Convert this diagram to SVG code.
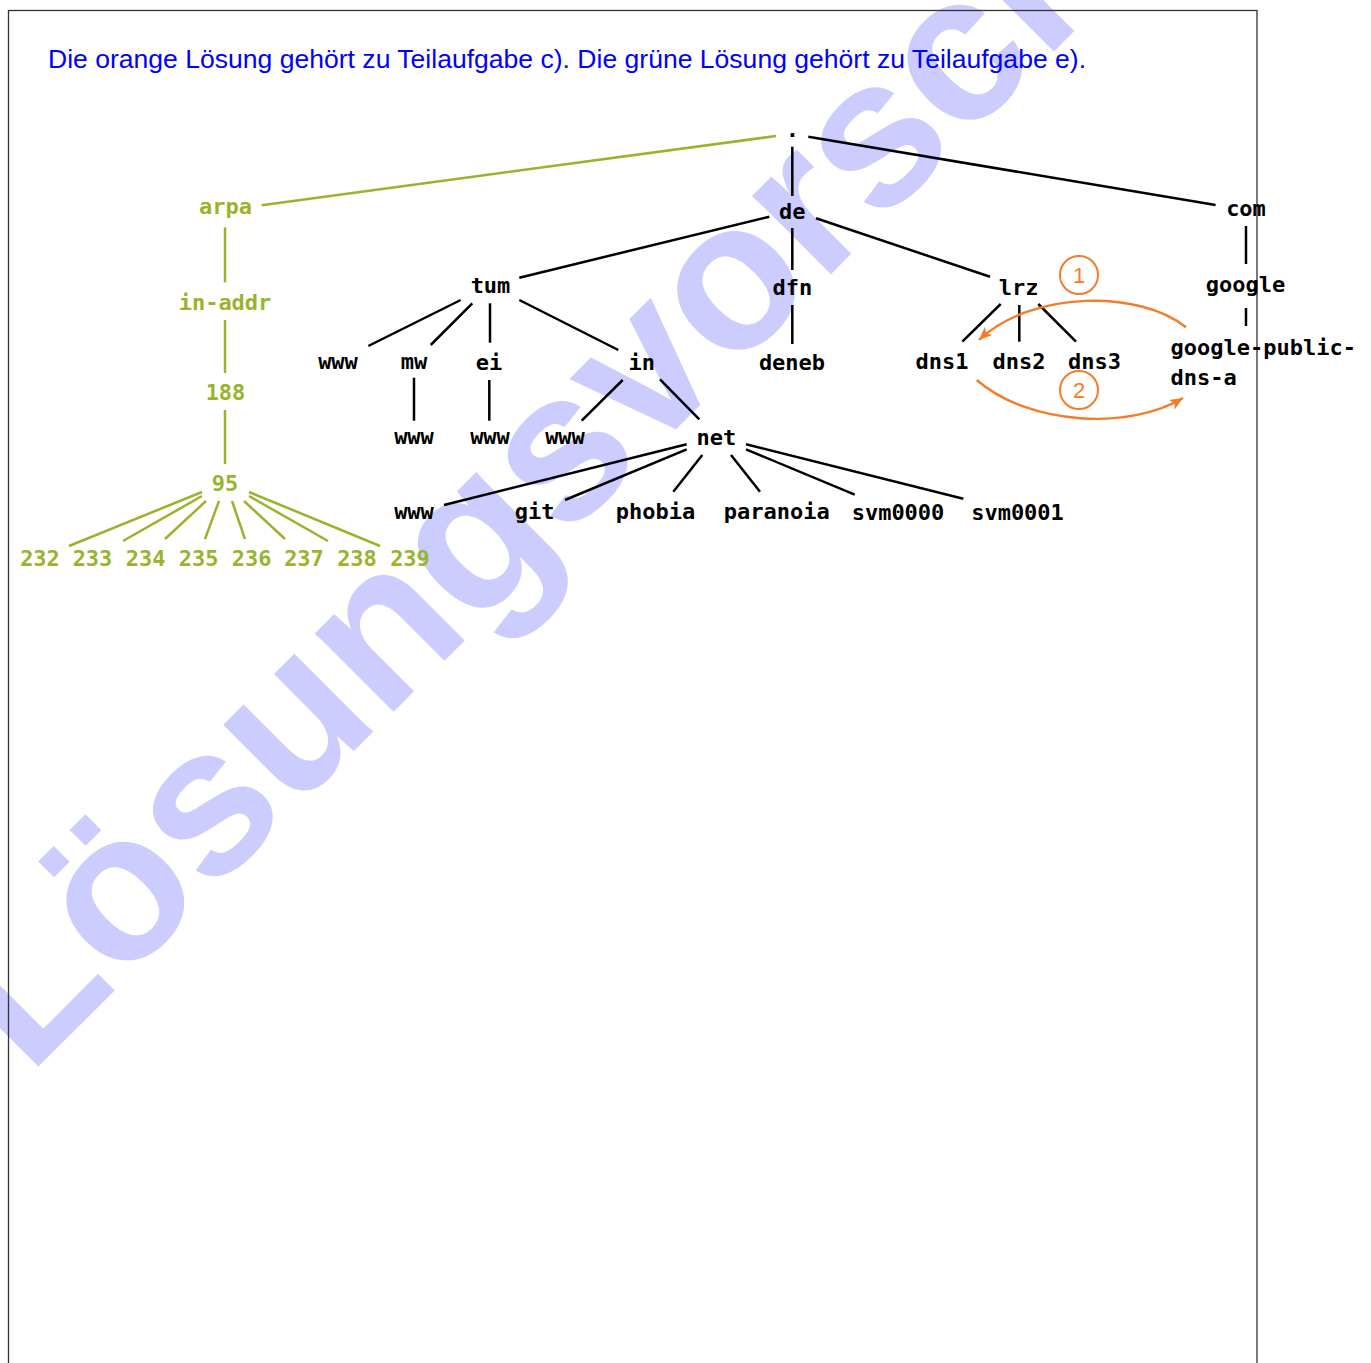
<svg xmlns="http://www.w3.org/2000/svg" width="1371" height="1363" viewBox="0 0 1371 1363">
<style>
.n{font-family:"DejaVu Sans Mono","Liberation Mono",monospace;font-weight:bold;font-size:22px;fill:#000;text-anchor:middle}
.g{fill:#97b42c}
.s{text-anchor:start}
.e{stroke:#000;stroke-width:2.5;fill:none;stroke-linecap:butt}
.ge{stroke:#97b42c;stroke-width:2.5;fill:none}
.o{stroke:#f47d29;stroke-width:2.4;fill:none}
.ot{font-family:"Liberation Sans",Arial,sans-serif;font-size:22px;fill:#f47d29;text-anchor:middle}
</style>
<defs>
<marker id="ah" markerUnits="userSpaceOnUse" markerWidth="16" markerHeight="12" refX="0" refY="0" viewBox="-14 -6 16 12" orient="auto" overflow="visible">
<path d="M0,0 L-13,-5.5 L-10,0 L-13,5.5 z" fill="#f47d29"/>
</marker>
</defs>
<rect width="1371" height="1363" fill="#fff"/>
<text transform="translate(28.6,1076.6) rotate(-45)" font-family="Liberation Sans,Arial,sans-serif" font-weight="bold" font-size="210" fill="#ccccff">Lösungsvorschlag</text>
<rect x="8.5" y="10.5" width="1248.5" height="1400" fill="none" stroke="#333" stroke-width="1.3"/>
<text x="48" y="68" font-family="Liberation Sans,Arial,sans-serif" font-size="26.55" fill="#0000ff">Die orange Lösung gehört zu Teilaufgabe c). Die grüne Lösung gehört zu Teilaufgabe e).</text>

<g id="connectors">
<line class="ge" x1="776" y1="136" x2="261.6" y2="205.3"/>
<line class="e" x1="792.3" y1="146.7" x2="792.3" y2="196"/>
<line class="e" x1="808.3" y1="136.7" x2="1215.6" y2="205"/>
<line class="e" x1="769.3" y1="216.7" x2="519.3" y2="277.7"/>
<line class="e" x1="792.3" y1="228" x2="792.3" y2="270"/>
<line class="e" x1="816" y1="218.3" x2="990" y2="276.7"/>
<line class="e" x1="792.3" y1="305" x2="792.3" y2="344"/>
<line class="e" x1="1246" y1="226" x2="1246" y2="264"/>
<line class="e" x1="1246" y1="308" x2="1246" y2="326"/>
<line class="e" x1="460.7" y1="300" x2="368.3" y2="346"/>
<line class="e" x1="472.3" y1="303.3" x2="430.7" y2="345"/>
<line class="e" x1="490" y1="303.3" x2="490" y2="342.7"/>
<line class="e" x1="519.3" y1="300" x2="618.3" y2="350"/>
<line class="e" x1="414" y1="377.7" x2="414" y2="420.7"/>
<line class="e" x1="489.3" y1="380" x2="489.3" y2="420.7"/>
<line class="e" x1="622.7" y1="380" x2="581.7" y2="420.7"/>
<line class="e" x1="660" y1="379.3" x2="699.3" y2="419.3"/>
<line class="e" x1="686.7" y1="444.3" x2="444" y2="505"/>
<line class="e" x1="686.7" y1="449.3" x2="565" y2="500"/>
<line class="e" x1="702.3" y1="455" x2="673.3" y2="491.7"/>
<line class="e" x1="731" y1="455" x2="760" y2="491.7"/>
<line class="e" x1="746" y1="449.3" x2="854.7" y2="494.7"/>
<line class="e" x1="746" y1="444.3" x2="963.3" y2="498.7"/>
<line class="e" x1="1000.7" y1="304" x2="962.3" y2="341.7"/>
<line class="e" x1="1019.3" y1="305" x2="1019.3" y2="341.7"/>
<line class="e" x1="1038.3" y1="304" x2="1076" y2="341.7"/>
<line class="ge" x1="225" y1="227.3" x2="225" y2="282.3"/>
<line class="ge" x1="225" y1="320" x2="225" y2="373"/>
<line class="ge" x1="225" y1="410" x2="225" y2="464"/>
<line class="ge" x1="202" y1="492" x2="69" y2="546"/>
<line class="ge" x1="202" y1="496" x2="123" y2="541"/>
<line class="ge" x1="206" y1="501" x2="165" y2="539"/>
<line class="ge" x1="219" y1="501" x2="205" y2="539"/>
<line class="ge" x1="232" y1="501" x2="245" y2="539"/>
<line class="ge" x1="244" y1="501" x2="285" y2="539"/>
<line class="ge" x1="249" y1="496" x2="328" y2="541"/>
<line class="ge" x1="249" y1="492" x2="380" y2="546"/>
<path class="o" d="M1186,327.3 C1140,290 1032,290 979,340" marker-end="url(#ah)"/>
<path class="o" d="M976.7,380 C1030,426 1130,430 1183,398" marker-end="url(#ah)"/>
</g>

<g id="n-root"><text class="n" x="792.3" y="137">.</text></g>
<g id="n-de"><text class="n" x="792.3" y="219">de</text></g>
<g id="n-com"><text class="n" x="1246" y="216">com</text></g>
<g id="n-arpa"><text class="n g" x="225.5" y="214">arpa</text></g>
<g id="n-in-addr"><text class="n g" x="225" y="310">in-addr</text></g>
<g id="n-188"><text class="n g" x="225.5" y="400">188</text></g>
<g id="n-95"><text class="n g" x="225" y="491">95</text></g>
<g id="n-232"><text class="n g" x="40" y="566">232</text></g>
<g id="n-233"><text class="n g" x="92.5" y="566">233</text></g>
<g id="n-234"><text class="n g" x="145.7" y="566">234</text></g>
<g id="n-235"><text class="n g" x="198.7" y="566">235</text></g>
<g id="n-236"><text class="n g" x="251.7" y="566">236</text></g>
<g id="n-237"><text class="n g" x="304" y="566">237</text></g>
<g id="n-238"><text class="n g" x="357" y="566">238</text></g>
<g id="n-239"><text class="n g" x="410" y="566">239</text></g>
<g id="n-tum"><text class="n" x="490.5" y="293">tum</text></g>
<g id="n-dfn"><text class="n" x="792.3" y="295">dfn</text></g>
<g id="n-lrz"><text class="n" x="1018.7" y="295">lrz</text></g>
<g id="n-google"><text class="n" x="1245.5" y="292">google</text></g>
<g id="n-gpd"><text class="n s" x="1170.5" y="355">google-public-</text><text class="n s" x="1170.5" y="385">dns-a</text></g>
<g id="n-tum-www"><text class="n" x="338" y="369">www</text></g>
<g id="n-mw"><text class="n" x="414" y="369">mw</text></g>
<g id="n-ei"><text class="n" x="489" y="370">ei</text></g>
<g id="n-in"><text class="n" x="641.7" y="370">in</text></g>
<g id="n-deneb"><text class="n" x="792" y="370">deneb</text></g>
<g id="n-dns1"><text class="n" x="942" y="369">dns1</text></g>
<g id="n-dns2"><text class="n" x="1019" y="369">dns2</text></g>
<g id="n-dns3"><text class="n" x="1094.5" y="369">dns3</text></g>
<g id="n-mw-www"><text class="n" x="414" y="444">www</text></g>
<g id="n-ei-www"><text class="n" x="490" y="444">www</text></g>
<g id="n-in-www"><text class="n" x="565" y="444">www</text></g>
<g id="n-net"><text class="n" x="716.3" y="445">net</text></g>
<g id="n-net-www"><text class="n" x="414" y="519">www</text></g>
<g id="n-git"><text class="n" x="534.7" y="519">git</text></g>
<g id="n-phobia"><text class="n" x="655.5" y="519">phobia</text></g>
<g id="n-paranoia"><text class="n" x="776.7" y="519">paranoia</text></g>
<g id="n-svm0000"><text class="n" x="898" y="520">svm0000</text></g>
<g id="n-svm0001"><text class="n" x="1017.5" y="520">svm0001</text></g>
<g id="n-step1"><circle cx="1079" cy="275" r="19" fill="none" stroke="#f47d29" stroke-width="2"/><text class="ot" x="1079" y="283">1</text></g>
<g id="n-step2"><circle cx="1079" cy="390" r="19" fill="none" stroke="#f47d29" stroke-width="2"/><text class="ot" x="1079" y="398">2</text></g>
</svg>
